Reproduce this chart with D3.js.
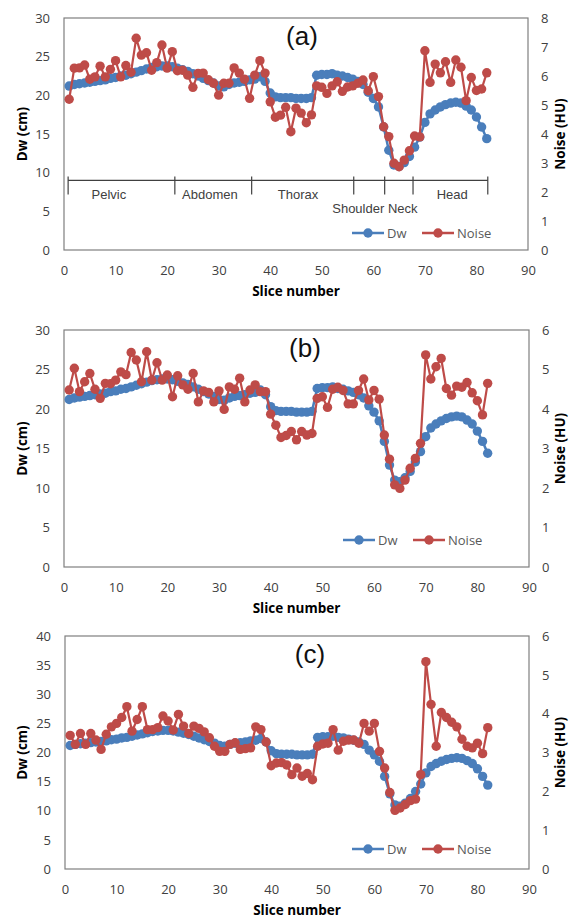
<!DOCTYPE html>
<html>
<head>
<meta charset="utf-8">
<script src="https://cdn.jsdelivr.net/npm/d3@7/dist/d3.min.js"></script>
<style>
  html, body { margin: 0; padding: 0; background: #fff; }
  svg { display: block; }
</style>
</head>
<body>
<svg id="chart" width="571" height="920"></svg>
<script>
// Slice numbers along the scan
const slices = [1,2,3,4,5,6,7,8,9,10,11,12,13,14,15,16,17,18,19,20,
  21,22,23,24,25,26,27,28,29,30,31,32,33,34,35,36,37,38,39,40,
  41,42,43,44,45,46,47,48,49,50,51,52,53,54,55,56,57,58,59,60,
  61,62,63,64,65,66,67,68,69,70,71,72,73,74,75,76,77,78,79,80,81,82];

// Water-equivalent diameter per slice (cm)
const dw = [21.2,21.4,21.5,21.6,21.7,21.8,21.9,22.0,22.2,22.3,
  22.5,22.6,22.8,23.0,23.2,23.4,23.6,23.7,23.8,23.8,
  23.7,23.5,23.3,23.1,22.8,22.5,22.2,21.9,21.6,21.2,
  21.1,21.4,21.6,21.7,21.8,22.0,22.1,22.4,21.8,20.3,
  19.8,19.7,19.7,19.7,19.6,19.6,19.6,19.7,22.6,22.7,
  22.7,22.8,22.6,22.5,22.3,22.1,21.8,21.4,20.4,19.6,
  18.5,15.9,12.9,11.0,10.8,11.3,12.1,13.3,14.6,16.5,
  17.6,18.1,18.5,18.8,19.0,19.1,19.0,18.6,18.1,17.2,15.9,14.4];

// Image noise per slice (HU), one list per reconstruction
const noiseA = [5.20,6.27,6.28,6.38,5.89,5.97,6.34,5.97,6.23,6.53,
  5.97,6.36,6.13,7.30,6.72,6.80,6.20,6.46,7.07,6.27,
  6.84,6.18,6.20,6.03,5.61,6.09,6.10,5.87,5.75,5.34,
  5.75,5.75,6.28,6.10,5.89,5.23,6.03,6.53,6.10,5.11,
  4.58,4.65,4.92,4.08,4.89,4.72,4.39,4.66,5.66,5.61,
  5.40,5.66,5.80,5.47,5.62,5.66,5.75,5.86,5.49,5.98,
  5.29,4.25,3.91,2.99,2.87,3.10,3.42,3.93,3.90,6.87,
  5.78,6.41,6.11,6.49,5.78,6.55,6.30,5.15,5.95,5.50,5.55,6.11];

const noiseB = [4.48,5.03,4.44,4.69,4.90,4.50,4.27,4.65,4.64,4.73,
  4.94,4.87,5.43,5.24,4.69,5.45,4.73,5.17,4.73,4.86,
  4.31,4.84,4.61,4.50,4.90,4.18,4.46,4.42,4.18,4.46,
  3.99,4.56,4.50,4.78,4.18,4.48,4.61,4.44,4.44,3.87,
  3.59,3.28,3.33,3.43,3.22,3.43,3.34,3.38,4.27,4.31,
  4.04,4.50,4.55,4.47,4.13,4.13,4.47,4.76,4.23,4.47,
  4.25,3.34,2.73,2.08,1.99,2.20,2.50,2.75,3.13,5.37,
  4.76,5.07,5.28,4.52,4.35,4.58,4.55,4.67,4.41,4.21,3.85,4.65];

const noiseC = [3.44,3.21,3.49,3.21,3.49,3.32,3.08,3.47,3.66,3.75,
  3.90,4.18,3.55,3.85,4.18,3.59,3.59,3.64,3.94,3.81,
  3.58,3.98,3.68,3.49,3.68,3.62,3.53,3.38,3.16,3.03,
  3.03,3.21,3.25,3.08,3.10,3.12,3.66,3.59,3.27,2.66,
  2.73,2.74,2.68,2.43,2.60,2.39,2.46,2.30,3.16,3.22,
  3.24,3.59,3.06,3.29,3.32,3.32,3.24,3.75,3.55,3.75,
  3.03,2.60,1.97,1.51,1.57,1.66,1.76,1.80,2.43,5.34,
  4.24,3.16,4.03,3.90,3.78,3.66,3.34,3.16,3.12,3.24,2.97,3.64];

// Axis tick values
const xTicks = [0,10,20,30,40,50,60,70,80,90];
const dwTicksAB = [0,5,10,15,20,25,30];
const dwTicksC = [0,5,10,15,20,25,30,35,40];
const noiseTicksA = [0,1,2,3,4,5,6,7,8];
const noiseTicksBC = [0,1,2,3,4,5,6];

// Anatomical regions (slice boundaries and label anchors)
const regionBounds = [0.8, 21.5, 36.4, 56.2, 62.2, 67.7, 82.2];
const regionNames = ["Pelvic", "Abdomen", "Thorax", "Shoulder Neck", "Head"];
const regionLabelAt = [8.7, 28.3, 45.4, 60.3, 75.3];
const regionLabelRow = [0, 0, 0, 1, 0];
const regionLevel = 9; // Dw level of the bracket line (cm)

const BLUE = "#4a7ebb";
const RED = "#be4b48";
const TICK_FONT = "'Open Sans', 'Noto Sans', sans-serif";

const svg = d3.select("#chart");

function drawPanel(p) {
  const g = svg.append("g");
  const x = d3.scaleLinear().domain([0, 90]).range([p.left, p.right]);
  const yL = d3.scaleLinear().domain([0, p.dwMax]).range([p.bottom, p.top]);
  const yR = d3.scaleLinear().domain([0, p.noiseMax]).range([p.bottom, p.top]);

  // plot-area frame
  g.append("rect")
    .attr("x", p.left).attr("y", p.top)
    .attr("width", p.right - p.left).attr("height", p.bottom - p.top)
    .attr("fill", "none").attr("stroke", "#7f7f7f").attr("stroke-width", 1.2);

  // axes (labels only, no tick marks)
  const fmt = d3.format("d");
  const axB = d3.axisBottom(x).tickValues(xTicks).tickFormat(fmt).tickSize(0).tickPadding(0);
  const axL = d3.axisLeft(yL).tickValues(p.dwTicks).tickFormat(fmt).tickSize(0).tickPadding(0);
  const axR = d3.axisRight(yR).tickValues(p.noiseTicks).tickFormat(fmt).tickSize(0).tickPadding(0);

  const gb = g.append("g").attr("transform", `translate(0,${p.bottom + 21})`).call(axB);
  const gl = g.append("g").attr("transform", `translate(${p.left - 14},0)`).call(axL);
  const gr = g.append("g").attr("transform", `translate(${p.right + 13},0)`).call(axR);
  [gb, gl, gr].forEach(a => {
    a.select(".domain").remove();
    a.selectAll("text")
      .attr("fill", "#404040")
      .style("font-family", TICK_FONT)
      .style("font-size", "13px");
  });
  gb.selectAll("text").attr("dy", "0.32em");

  // axis titles
  g.append("text")
    .attr("x", (p.left + p.right) / 2).attr("y", p.bottom + 46)
    .attr("text-anchor", "middle")
    .style("font-family", TICK_FONT).style("font-size", "13.5px").style("font-weight", "bold")
    .text("Slice number");
  g.append("text")
    .attr("transform", `translate(22,${(p.top + p.bottom) / 2}) rotate(-90)`)
    .attr("text-anchor", "middle").attr("dy", "0.35em")
    .style("font-family", TICK_FONT).style("font-size", "13.5px").style("font-weight", "bold")
    .text("Dw (cm)");
  g.append("text")
    .attr("transform", `translate(560,${(p.top + p.bottom) / 2}) rotate(-90)`)
    .attr("text-anchor", "middle").attr("dy", "0.35em")
    .style("font-family", TICK_FONT).style("font-size", "13.5px").style("font-weight", "bold")
    .text("Noise (HU)");

  // panel tag
  g.append("text")
    .attr("x", p.tagX).attr("y", p.top + 27)
    .attr("text-anchor", "middle")
    .style("font-family", "'Liberation Sans', Arial, sans-serif").style("font-size", "26px")
    .attr("fill", "#111")
    .text(p.tag);

  // optional anatomical region bracket
  if (p.regions) {
    const ly = yL(regionLevel);
    g.append("line")
      .attr("x1", x(regionBounds[0])).attr("x2", x(regionBounds[regionBounds.length - 1]))
      .attr("y1", ly).attr("y2", ly)
      .attr("stroke", "#404040").attr("stroke-width", 1.2);
    g.selectAll(".rtick").data(regionBounds).join("line")
      .attr("x1", d => x(d)).attr("x2", d => x(d))
      .attr("y1", ly - 4).attr("y2", ly + 14)
      .attr("stroke", "#404040").attr("stroke-width", 1.2);
    g.selectAll(".rlab").data(regionNames).join("text")
      .attr("x", (d, i) => x(regionLabelAt[i]))
      .attr("y", (d, i) => ly + 19 + regionLabelRow[i] * 14)
      .attr("text-anchor", "middle")
      .style("font-family", "'Liberation Sans', Arial, sans-serif").style("font-size", "13px")
      .attr("fill", "#404040")
      .text(d => d);
  }

  // series
  const lineL = d3.line().x((d, i) => x(slices[i])).y(d => yL(d));
  const lineR = d3.line().x((d, i) => x(slices[i])).y(d => yR(d));

  g.append("path").datum(dw).attr("d", lineL)
    .attr("fill", "none").attr("stroke", BLUE).attr("stroke-width", 2.5);
  g.selectAll(".dwpt").data(dw).join("circle")
    .attr("cx", (d, i) => x(slices[i])).attr("cy", d => yL(d)).attr("r", 4.7)
    .attr("fill", BLUE);

  g.append("path").datum(p.noise).attr("d", lineR)
    .attr("fill", "none").attr("stroke", RED).attr("stroke-width", 2.2);
  g.selectAll(".npt").data(p.noise).join("circle")
    .attr("cx", (d, i) => x(slices[i])).attr("cy", d => yR(d)).attr("r", 4.7)
    .attr("fill", RED);

  // legend
  const leg = g.append("g").attr("transform", `translate(${p.legX},${p.legY})`);
  const items = [{name: "Dw", c: BLUE, x0: 0}, {name: "Noise", c: RED, x0: 70}];
  items.forEach(it => {
    leg.append("line").attr("x1", it.x0).attr("x2", it.x0 + 32).attr("y1", 0).attr("y2", 0)
      .attr("stroke", it.c).attr("stroke-width", 2.5);
    leg.append("circle").attr("cx", it.x0 + 16).attr("cy", 0).attr("r", 4.7).attr("fill", it.c);
    leg.append("text").attr("x", it.x0 + 35).attr("y", 0).attr("dy", "0.35em")
      .style("font-family", TICK_FONT).style("font-size", "13px").attr("fill", "#595959")
      .text(it.name);
  });
}

drawPanel({tag: "(a)", tagX: 302, top: 18, bottom: 250, left: 64, right: 528,
  dwMax: 30, dwTicks: dwTicksAB, noiseMax: 8, noiseTicks: noiseTicksA,
  noise: noiseA, regions: true, legX: 352, legY: 233});

drawPanel({tag: "(b)", tagX: 305, top: 330, bottom: 567, left: 64, right: 529,
  dwMax: 30, dwTicks: dwTicksAB, noiseMax: 6, noiseTicks: noiseTicksBC,
  noise: noiseB, regions: false, legX: 343, legY: 540});

drawPanel({tag: "(c)", tagX: 310, top: 636, bottom: 869, left: 65, right: 529,
  dwMax: 40, dwTicks: dwTicksC, noiseMax: 6, noiseTicks: noiseTicksBC,
  noise: noiseC, regions: false, legX: 352, legY: 849});
</script>
</body>
</html>
